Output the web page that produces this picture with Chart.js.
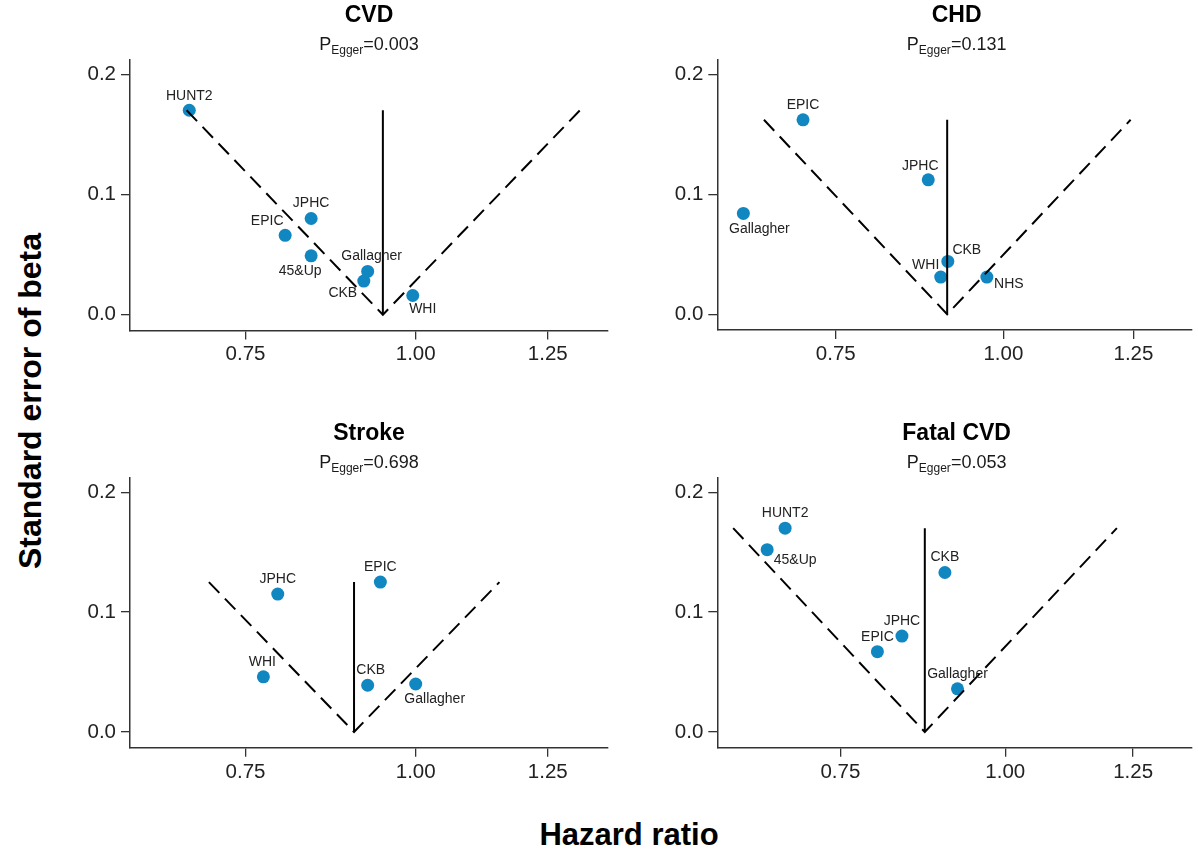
<!DOCTYPE html>
<html>
<head>
<meta charset="utf-8">
<script src="https://cdn.jsdelivr.net/npm/chart.js@4.4.0/dist/chart.umd.min.js"></script>
<style>
  html, body { margin: 0; padding: 0; background: #ffffff; }
  #wrap { position: relative; width: 1198px; height: 850px; overflow: hidden;
          font-family: "Liberation Sans", Arial, Helvetica, sans-serif; color: #111; }
  #wrap canvas { position: absolute; }
  .txt { position: absolute; width: 400px; text-align: center; white-space: nowrap; line-height: 1; }
  .ptitle { font-weight: bold; font-size: 23px; color: #000; }
  .psub { font-size: 18px; color: #1a1a1a; }
  .psub span { font-size: 12px; position: relative; top: 4px; }
  .axtitle { position: absolute; font-weight: bold; line-height: 1; white-space: nowrap; color: #000; }
</style>
</head>
<body>
<div id="wrap"></div>
<script>
// ---------------- data ----------------
const panelTitles = ['CVD', 'CHD', 'Stroke', 'Fatal CVD'];
const pEgger = ['0.003', '0.131', '0.698', '0.053'];
const xTickValues = [0.75, 1.00, 1.25];
const yTickValues = [0.0, 0.1, 0.2];
const xAxisTitle = 'Hazard ratio';
const yAxisTitle = 'Standard error of beta';

const cvdStudies = ['HUNT2', 'JPHC', 'EPIC', '45&Up', 'Gallagher', 'CKB', 'WHI'];
const cvdHR      = [0.682, 0.838, 0.802, 0.838, 0.922, 0.916, 0.995];
const cvdSE      = [0.170, 0.080, 0.066, 0.049, 0.036, 0.028, 0.016];

const chdStudies = ['EPIC', 'JPHC', 'Gallagher', 'CKB', 'WHI', 'NHS'];
const chdHR      = [0.709, 0.879, 0.640, 0.909, 0.898, 0.972];
const chdSE      = [0.162, 0.112, 0.084, 0.044, 0.031, 0.031];

const strokeStudies = ['JPHC', 'EPIC', 'WHI', 'CKB', 'Gallagher'];
const strokeHR      = [0.792, 0.942, 0.773, 0.922, 1.000];
const strokeSE      = [0.115, 0.125, 0.046, 0.039, 0.040];

const fatalStudies = ['HUNT2', '45&Up', 'CKB', 'JPHC', 'EPIC', 'Gallagher'];
const fatalHR      = [0.681, 0.660, 0.900, 0.835, 0.800, 0.920];
const fatalSE      = [0.170, 0.152, 0.133, 0.080, 0.067, 0.036];

// funnel (pooled estimate and pseudo-confidence limits at the top of the funnel)
const pooledHR      = [0.946, 0.908, 0.901, 0.869];
const funnelTopSE   = [0.170, 0.162, 0.125, 0.170];
const funnelLowerHR = [0.679, 0.663, 0.705, 0.622];
const funnelUpperHR = [1.320, 1.244, 1.152, 1.215];

// axis bounds
const xMinHR = [0.617, 0.612, 0.617, 0.605];
const xMaxHR = [1.384, 1.381, 1.384, 1.384];
const yMinSE = -0.0131;
const yMaxSE = 0.2118;

// ---------------- layout (label placement, px offsets from point) ----------------
const cvdLabelPos    = [[0,-14],[0,-15],[-18,-14],[-11,15],[4,-15],[-21,12],[10,14]];
const chdLabelPos    = [[0,-15],[-8,-14],[16,16],[19,-11],[-15,-12],[22,7]];
const strokeLabelPos = [[0,-15],[0,-15],[-1,-15],[3,-15],[19,15]];
const fatalLabelPos  = [[0,-15],[28,10],[0,-15],[0,-15],[0,-15],[0,-15]];

const panels = [
  { studies: cvdStudies,    hr: cvdHR,    se: cvdSE,    lab: cvdLabelPos,
    canvas: { left: 60,  top: 0,   w: 560, h: 390 }, area: { left: 70,   right: 548, top: 60, bottom: 330.5 } },
  { studies: chdStudies,    hr: chdHR,    se: chdSE,    lab: chdLabelPos,
    canvas: { left: 640, top: 0,   w: 558, h: 390 }, area: { left: 77.3, right: 556, top: 60, bottom: 330 } },
  { studies: strokeStudies, hr: strokeHR, se: strokeSE, lab: strokeLabelPos,
    canvas: { left: 60,  top: 418, w: 560, h: 390 }, area: { left: 70,   right: 548, top: 60, bottom: 329.7 } },
  { studies: fatalStudies,  hr: fatalHR,  se: fatalSE,  lab: fatalLabelPos,
    canvas: { left: 640, top: 418, w: 558, h: 390 }, area: { left: 77.3, right: 556, top: 60, bottom: 329.7 } }
];

const FONT = '"Liberation Sans", Arial, Helvetica, sans-serif';
const AXIS_H = 50;

const pointLabels = {
  id: 'pointLabels',
  afterDatasetsDraw(chart, args, opts) {
    const meta = chart.getDatasetMeta(opts.datasetIndex);
    const ctx = chart.ctx;
    ctx.save();
    ctx.font = '14px ' + FONT;
    ctx.fillStyle = '#222';
    ctx.textAlign = 'center';
    ctx.textBaseline = 'middle';
    meta.data.forEach((el, i) => {
      const off = opts.offsets[i] || [0, -14];
      ctx.fillText(opts.names[i], el.x + off[0], el.y + off[1]);
    });
    ctx.restore();
  }
};

const wrap = document.getElementById('wrap');

panels.forEach((p, k) => {
  const cv = document.createElement('canvas');
  cv.width = p.canvas.w; cv.height = p.canvas.h;
  cv.style.left = p.canvas.left + 'px';
  cv.style.top = p.canvas.top + 'px';
  cv.style.width = p.canvas.w + 'px';
  cv.style.height = p.canvas.h + 'px';
  wrap.appendChild(cv);

  const yAxisW = p.area.left;
  const padRight = p.canvas.w - p.area.right;
  const padTop = p.area.top;
  const padBottom = p.canvas.h - p.area.bottom - AXIS_H;

  const points = p.hr.map((v, i) => ({ x: v, y: p.se[i] }));
  const funnel = [
    { x: funnelLowerHR[k], y: funnelTopSE[k] },
    { x: pooledHR[k], y: 0 },
    { x: funnelUpperHR[k], y: funnelTopSE[k] }
  ];
  const vline = [ { x: pooledHR[k], y: 0 }, { x: pooledHR[k], y: funnelTopSE[k] } ];

  new Chart(cv, {
    type: 'scatter',
    data: {
      datasets: [
        { type: 'line', data: funnel, borderColor: '#000', borderWidth: 2, borderDash: [15, 8],
          pointRadius: 0, fill: false, tension: 0, order: 1 },
        { type: 'line', data: vline, borderColor: '#000', borderWidth: 2,
          pointRadius: 0, fill: false, tension: 0, order: 1 },
        { data: points, backgroundColor: '#1187c1', borderWidth: 0, pointRadius: 6.5,
          pointHoverRadius: 6.5, order: 2 }
      ]
    },
    options: {
      responsive: false,
      animation: false,
      devicePixelRatio: 1,
      layout: { padding: { left: 0, right: padRight, top: padTop, bottom: padBottom } },
      plugins: {
        legend: { display: false },
        tooltip: { enabled: false },
        pointLabels: { datasetIndex: 2, names: p.studies, offsets: p.lab }
      },
      scales: {
        x: {
          type: 'logarithmic',
          min: xMinHR[k], max: xMaxHR[k],
          afterBuildTicks: s => { s.ticks = xTickValues.map(v => ({ value: v })); },
          afterFit: s => { s.height = AXIS_H; },
          ticks: { callback: v => Number(v).toFixed(2), font: { size: 20.5, family: FONT }, color: '#222',
                   padding: 3, autoSkip: false, maxRotation: 0, minRotation: 0 },
          grid: { drawOnChartArea: false, drawTicks: true, tickLength: 9, color: '#333', lineWidth: 1.3 },
          border: { display: true, color: '#333', width: 1.5 }
        },
        y: {
          type: 'linear',
          min: yMinSE, max: yMaxSE,
          afterBuildTicks: s => { s.ticks = yTickValues.map(v => ({ value: v })); },
          afterFit: s => { s.width = yAxisW; },
          ticks: { callback: v => Number(v).toFixed(1), font: { size: 20.5, family: FONT }, color: '#222',
                   padding: 5, autoSkip: false },
          grid: { drawOnChartArea: false, drawTicks: true, tickLength: 9, color: '#333', lineWidth: 1.3 },
          border: { display: true, color: '#333', width: 1.5 }
        }
      }
    },
    plugins: [pointLabels]
  });

  // panel title + subtitle (real DOM text)
  const cx = p.canvas.left + (p.area.left + p.area.right) / 2;
  const chartTop = p.canvas.top + p.area.top;
  const t = document.createElement('div');
  t.className = 'txt ptitle';
  t.textContent = panelTitles[k];
  t.style.left = (cx - 200) + 'px';
  t.style.top = (chartTop - 37.5 - 0.8465 * 23) + 'px';
  wrap.appendChild(t);

  const s = document.createElement('div');
  s.className = 'txt psub';
  s.innerHTML = 'P<span>Egger</span>=' + pEgger[k];
  s.style.left = (cx - 200) + 'px';
  s.style.top = (chartTop - 10 - 0.8465 * 18) + 'px';
  wrap.appendChild(s);
});

// global axis titles
const xt = document.createElement('div');
xt.className = 'axtitle';
xt.textContent = xAxisTitle;
xt.style.fontSize = '31px';
xt.style.left = '629px';
xt.style.top = (845 - 0.8465 * 31) + 'px';
xt.style.transform = 'translateX(-50%)';
wrap.appendChild(xt);

const yt = document.createElement('div');
yt.className = 'axtitle';
yt.textContent = yAxisTitle;
yt.style.fontSize = '32px';
yt.style.left = '30px';
yt.style.top = '401px';
yt.style.transform = 'translate(-50%, -50%) rotate(-90deg)';
wrap.appendChild(yt);
</script>
</body>
</html>
